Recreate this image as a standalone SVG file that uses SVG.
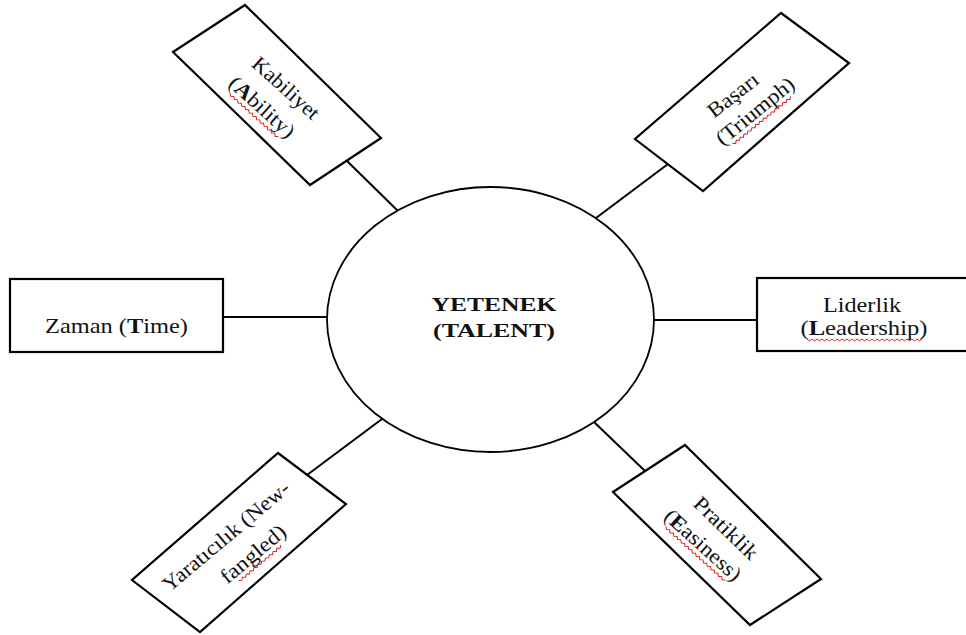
<svg xmlns="http://www.w3.org/2000/svg" width="966" height="635" viewBox="0 0 966 635">
  <style>
    .box { fill: #fff; stroke: #000; stroke-width: 2.2; stroke-linejoin: miter; }
    .hub { fill: #fff; stroke: #000; stroke-width: 1.8; }
    .link { stroke: #000; stroke-width: 2; fill: none; }
    .lbl { font-family: "Liberation Serif", "Times New Roman", serif; font-size: 21px; fill: #111; text-anchor: middle; }
    .hubtxt { font-family: "Liberation Serif", "Times New Roman", serif; font-size: 19px; font-weight: bold; fill: #111; text-anchor: middle; }
    .sq { fill: none; stroke: #e02020; stroke-width: 1; }
  </style>

  <!-- connectors between the hub and each surrounding box -->
  <g id="connectors">
    <line class="link" x1="347" y1="161" x2="398" y2="211"/>
    <line class="link" x1="668" y1="164" x2="596" y2="218"/>
    <line class="link" x1="223" y1="317" x2="327" y2="317"/>
    <line class="link" x1="654" y1="320" x2="757" y2="320"/>
    <line class="link" x1="307" y1="475" x2="382" y2="419"/>
    <line class="link" x1="645" y1="471" x2="594" y2="422"/>
  </g>

  <g id="hub">
    <ellipse class="hub" cx="490.5" cy="319.5" rx="163.5" ry="132.5"/>
    <text class="hubtxt" x="494" y="311" textLength="125" lengthAdjust="spacingAndGlyphs">YETENEK</text>
    <text class="hubtxt" x="494" y="337" textLength="122" lengthAdjust="spacingAndGlyphs">(TALENT)</text>
  </g>

  <g id="kabiliyet">
    <polygon class="box" points="245,5 381,138 310,185 173,52"/>
    <text class="lbl" transform="translate(286,88) rotate(42)" y="7" textLength="83" lengthAdjust="spacingAndGlyphs">Kabiliyet</text>
    <g transform="translate(262,107) rotate(42)">
      <text class="lbl" y="7" textLength="81" lengthAdjust="spacingAndGlyphs">(<tspan font-weight="bold">A</tspan>bility)</text>
      <path class="sq" d="M-33,11 l2.5,2 l2.5,-2 l2.5,2 l2.5,-2 l2.5,2 l2.5,-2 l2.5,2 l2.5,-2 l2.5,2 l2.5,-2 l2.5,2 l2.5,-2 l2.5,2 l2.5,-2 l2.5,2 l2.5,-2 l2.5,2 l2.5,-2 l2.5,2 l2.5,-2 l2.5,2 l2.5,-2 l2.5,2 l2.5,-2 l2.5,2 l2.5,-2"/>
    </g>
  </g>

  <g id="basari">
    <polygon class="box" points="781,13 849,63 703,191 635,139"/>
    <text class="lbl" transform="translate(733,95) rotate(-38)" y="7" textLength="59" lengthAdjust="spacingAndGlyphs">Başarı</text>
    <g transform="translate(755,111) rotate(-39)">
      <text class="lbl" y="7" textLength="95" lengthAdjust="spacingAndGlyphs">(Triumph)</text>
      <path class="sq" d="M-38,11 l2.5,2 l2.5,-2 l2.5,2 l2.5,-2 l2.5,2 l2.5,-2 l2.5,2 l2.5,-2 l2.5,2 l2.5,-2 l2.5,2 l2.5,-2 l2.5,2 l2.5,-2 l2.5,2 l2.5,-2 l2.5,2 l2.5,-2 l2.5,2 l2.5,-2 l2.5,2 l2.5,-2 l2.5,2 l2.5,-2 l2.5,2 l2.5,-2 l2.5,2 l2.5,-2 l2.5,2 l2.5,-2"/>
    </g>
  </g>

  <g id="zaman">
    <rect class="box" x="10" y="279" width="213" height="73"/>
    <text class="lbl" x="116.5" y="333" textLength="143" lengthAdjust="spacingAndGlyphs">Zaman (<tspan font-weight="bold">T</tspan>ime)</text>
  </g>

  <g id="liderlik">
    <rect class="box" x="757" y="278" width="240" height="73"/>
    <text class="lbl" x="862" y="312" textLength="78" lengthAdjust="spacingAndGlyphs">Liderlik</text>
    <text class="lbl" x="864" y="335" textLength="127" lengthAdjust="spacingAndGlyphs">(<tspan font-weight="bold">L</tspan>eadership)</text>
    <path class="sq" d="M807,339 l2.5,2 l2.5,-2 l2.5,2 l2.5,-2 l2.5,2 l2.5,-2 l2.5,2 l2.5,-2 l2.5,2 l2.5,-2 l2.5,2 l2.5,-2 l2.5,2 l2.5,-2 l2.5,2 l2.5,-2 l2.5,2 l2.5,-2 l2.5,2 l2.5,-2 l2.5,2 l2.5,-2 l2.5,2 l2.5,-2 l2.5,2 l2.5,-2 l2.5,2 l2.5,-2 l2.5,2 l2.5,-2 l2.5,2 l2.5,-2 l2.5,2 l2.5,-2 l2.5,2 l2.5,-2 l2.5,2 l2.5,-2 l2.5,2 l2.5,-2 l2.5,2 l2.5,-2 l2.5,2 l2.5,-2 l2.5,2 l2.5,-2"/>
  </g>

  <g id="yaraticilik">
    <polygon class="box" points="278,453 346,504 200,632 132,580"/>
    <text class="lbl" transform="translate(226,536) rotate(-40)" y="7" textLength="159" lengthAdjust="spacingAndGlyphs">Yaratıcılık (New-</text>
    <g transform="translate(253,554) rotate(-40)">
      <text class="lbl" y="7" textLength="79" lengthAdjust="spacingAndGlyphs">fangled)</text>
      <path class="sq" d="M-28,11 l2.5,2 l2.5,-2 l2.5,2 l2.5,-2 l2.5,2 l2.5,-2 l2.5,2 l2.5,-2 l2.5,2 l2.5,-2 l2.5,2 l2.5,-2 l2.5,2 l2.5,-2 l2.5,2 l2.5,-2 l2.5,2 l2.5,-2 l2.5,2 l2.5,-2 l2.5,2 l2.5,-2"/>
    </g>
  </g>

  <g id="pratiklik">
    <polygon class="box" points="685,445 821,579 750,625 613,492"/>
    <text class="lbl" transform="translate(726,528) rotate(44)" y="7" textLength="81" lengthAdjust="spacingAndGlyphs">Pratiklik</text>
    <g transform="translate(703,545) rotate(42)">
      <text class="lbl" y="7" textLength="96" lengthAdjust="spacingAndGlyphs">(<tspan font-weight="bold">E</tspan>asiness)</text>
      <path class="sq" d="M-40,11 l2.5,2 l2.5,-2 l2.5,2 l2.5,-2 l2.5,2 l2.5,-2 l2.5,2 l2.5,-2 l2.5,2 l2.5,-2 l2.5,2 l2.5,-2 l2.5,2 l2.5,-2 l2.5,2 l2.5,-2 l2.5,2 l2.5,-2 l2.5,2 l2.5,-2 l2.5,2 l2.5,-2 l2.5,2 l2.5,-2 l2.5,2 l2.5,-2 l2.5,2 l2.5,-2 l2.5,2 l2.5,-2 l2.5,2 l2.5,-2"/>
    </g>
  </g>
</svg>
